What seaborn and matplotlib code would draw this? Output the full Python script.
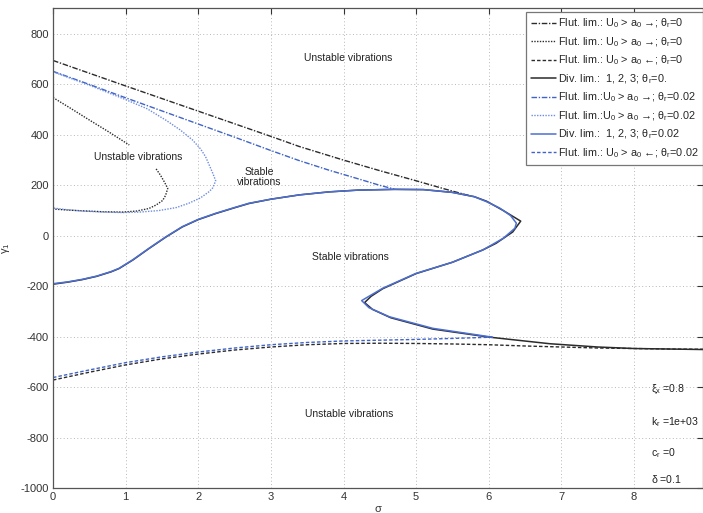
import matplotlib
matplotlib.use("Agg")
import matplotlib.pyplot as plt
import seaborn as sns
import pandas as pd

# ---------------- data ----------------
# Flutter limit U0 > a0 ->, theta_r = 0 (black dash-dot)
fl1_k_x = [0, 1, 2, 3, 3.39, 4, 4.5, 5, 5.4, 5.72]
fl1_k_y = [695, 594, 494, 394, 354, 300, 258, 218, 185, 160]
# Flutter limit U0 > a0 ->, theta_r = 0 (black dotted, two branches)
fl2_k_up_x = [0, 0.25, 0.5, 0.75, 1.05]
fl2_k_up_y = [548, 504, 459, 415, 360]
fl2_k_lo_x = [1.42, 1.48, 1.53, 1.58, 1.55, 1.51, 1.42, 1.32, 1.15, 0.96, 0.7, 0.4, 0.2, 0]
fl2_k_lo_y = [265, 240, 215, 188, 160, 140, 122, 108, 98, 94, 95, 99, 102, 106]
# Flutter limit U0 > a0 <-, theta_r = 0 (black dashed)
fl3_k_x = [0, 0.5, 1, 1.5, 2, 2.5, 3, 3.5, 4, 4.5, 5, 5.5, 6, 6.5, 7, 7.5, 8, 8.5, 8.95]
fl3_k_y = [-572, -541, -512, -488, -469, -453, -441, -432, -427, -426, -427, -429, -432, -437, -441, -445, -447, -449, -450]
# Divergence limit, theta_r = 0 (black solid)
div_k_x = [0, 0.2, 0.4, 0.6, 0.8, 0.91, 1.1, 1.32, 1.55, 1.78, 2.0, 2.24, 2.5, 2.7, 3.0, 3.39, 3.8, 4.2, 4.7,
           5.1, 5.5, 5.8, 5.97, 6.2, 6.44, 6.33, 6.1, 5.92, 5.5, 5.0, 4.54, 4.38, 4.29, 4.4, 4.65, 5.23, 6.01,
           6.84, 7.5, 8.0, 8.95]
div_k_y = [-192, -184, -174, -161, -143, -130, -96, -51, -6, 35, 64, 88, 111, 128, 145, 162, 174, 181, 184,
           183, 172, 155, 137, 100, 58, 15, -30, -56, -105, -150, -210, -240, -265, -292, -325, -370, -402,
           -428, -441, -447, -451]
# Flutter limit U0 > a0 ->, theta_r = 0.02 (blue dash-dot)
fl1_b_x = [0, 0.5, 1, 1.5, 2, 2.5, 3, 3.39, 3.8, 4.2, 4.5, 4.7]
fl1_b_y = [652, 600, 547, 495, 443, 391, 338, 298, 260, 226, 200, 185]
# Flutter limit U0 > a0 ->, theta_r = 0.02 (blue dotted)
fl2_b_x = [0, 0.5, 1, 1.3, 1.55, 1.75, 1.92, 2.03, 2.1, 2.2, 2.24, 2.2, 2.15, 2.03, 1.87, 1.7, 1.46, 1.2,
           0.96, 0.7, 0.4, 0.2, 0]
fl2_b_y = [650, 597, 540, 503, 459, 420, 380, 345, 314, 248, 218, 190, 175, 150, 129, 112, 100, 94,
           92, 94, 98, 103, 110]
# Divergence limit, theta_r = 0.02 (blue solid)
div_b_x = [0, 0.2, 0.4, 0.6, 0.8, 0.91, 1.1, 1.32, 1.55, 1.78, 2.0, 2.24, 2.5, 2.7, 3.0, 3.39, 3.8, 4.2, 4.7,
           5.1, 5.5, 5.8, 5.97, 6.15, 6.3, 6.38, 6.36, 6.2, 5.92, 5.5, 5.0, 4.54, 4.35, 4.25, 4.35, 4.63, 5.23,
           6.05]
div_b_y = [-190, -183, -173, -160, -142, -129, -95, -50, -5, 36, 65, 89, 112, 129, 145, 162, 174, 181, 184,
           183, 172, 155, 135, 110, 80, 50, 30, -10, -56, -105, -149, -208, -240, -257, -285, -321, -367,
           -402]
# Flutter limit U0 > a0 <-, theta_r = 0.02 (blue dashed)
fl3_b_x = [0, 0.5, 1, 1.5, 2, 2.5, 3, 3.5, 4, 4.5, 5, 5.5, 6.05]
fl3_b_y = [-562, -532, -503, -480, -461, -445, -432, -423, -417, -414, -411, -407, -402]

labels = [
    r"Flut. lim.: $U_0$ > $a_0$ →; $\theta_r$=0",
    r"Flut. lim.: $U_0$ > $a_0$ →; $\theta_r$=0",
    r"Flut. lim.: $U_0$ > $a_0$ ←; $\theta_r$=0",
    r"Div. lim.:  1, 2, 3; $\theta_r$=0.",
    r"Flut. lim.:$U_0$ > $a_0$ →; $\theta_r$=0.02",
    r"Flut. lim.:$U_0$ > $a_0$ →; $\theta_r$=0.02",
    r"Div. lim.:  1, 2, 3; $\theta_r$=0.02",
    r"Flut. lim.: $U_0$ > $a_0$ ←; $\theta_r$=0.02",
]

region_texts = ["Unstable vibrations", "Unstable vibrations", "Stable\nvibrations",
                "Stable vibrations", "Unstable vibrations"]
region_x = [4.06, 1.17, 2.84, 4.1, 4.08]
region_y = [705, 312, 233, -85, -707]

param_texts = [r"$\xi_x$ =0.8", r"$k_r$ =1e+03", r"$c_r$ =0", r"$\delta$ =0.1"]
param_y = [-611, -738, -861, -965]
param_x = 8.24

xticks = list(range(0, 9))
yticks = list(range(-1000, 801, 200))

# ---------------- style ----------------
sns.set_style("white")
plt.rcParams["font.family"] = ["Liberation Sans", "DejaVu Sans"]
plt.rcParams["mathtext.fontset"] = "custom"
plt.rcParams["mathtext.rm"] = "Liberation Sans"
plt.rcParams["mathtext.it"] = "Liberation Sans"
plt.rcParams["mathtext.default"] = "regular"
plt.rcParams["axes.unicode_minus"] = False

fig = plt.figure(figsize=(7.03, 5.13), dpi=100)
ax = fig.add_axes([53 / 703, 25 / 513, 650 / 703, 480 / 513])

BLACK = "#2b2b2b"
BLUE = "#3f63c8"
BLUE_L = "#6d8de0"

def draw(xs, ys, color, ls, lw=1.0, label=None):
    df = pd.DataFrame({"x": xs, "y": ys})
    sns.lineplot(data=df, x="x", y="y", sort=False, estimator=None, color=color,
                 linestyle=ls, linewidth=lw, ax=ax, label=label)

dashdot = (0, (4, 1.2, 1, 1.2))
dotted = (0, (1, 1))
dashed = (0, (2.5, 1.5))

draw(fl1_k_x, fl1_k_y, BLACK, dashdot, label=labels[0])
draw(fl2_k_up_x, fl2_k_up_y, BLACK, dotted, label=labels[1])
draw(fl2_k_lo_x, fl2_k_lo_y, BLACK, dotted)
draw(fl3_k_x, fl3_k_y, BLACK, dashed, label=labels[2])
draw(div_k_x, div_k_y, BLACK, "-", lw=1.1, label=labels[3])
draw(fl1_b_x, fl1_b_y, BLUE, dashdot, label=labels[4])
draw(fl2_b_x, fl2_b_y, BLUE_L, dotted, label=labels[5])
draw(div_b_x, div_b_y, "#4d6fd2", "-", lw=1.1, label=labels[6])
draw(fl3_b_x, fl3_b_y, BLUE, dashed, label=labels[7])

for t, x, y in zip(region_texts, region_x, region_y):
    ax.text(x, y, t, ha="center", va="center", fontsize=7.5, color="#222222", linespacing=1.1)
for t, y in zip(param_texts, param_y):
    ax.text(param_x, y, t, ha="left", va="center", fontsize=7.6, color="#222222")

ax.set_xlim(0, 8.95)
ax.set_ylim(-1000, 903)
ax.set_xticks(xticks)
ax.set_yticks(yticks)
ax.tick_params(direction="in", top=True, right=True, length=4, width=0.8,
               labelsize=8, colors="#333333", pad=3)
ax.grid(True, linestyle=(0, (1, 2.5)), color="#b8b8b8", linewidth=0.7)
for s in ax.spines.values():
    s.set_color("#555555")
    s.set_linewidth(0.9)
ax.set_xlabel(r"$\sigma$", fontsize=8, labelpad=1, color="#333333")
ax.set_ylabel(r"$\gamma_1$", fontsize=8, color="#333333")
ax.yaxis.set_label_coords(-0.063, 0.5)

leg = ax.legend(loc="upper right", bbox_to_anchor=(1.0, 0.992), fontsize=7.8,
                frameon=True, fancybox=False, edgecolor="#777777", framealpha=1,
                handlelength=2.3, handletextpad=0.15, labelspacing=0.45,
                borderpad=0.45, borderaxespad=0.0)
leg.get_frame().set_linewidth(0.9)

fig.savefig("out.png", dpi=100)
